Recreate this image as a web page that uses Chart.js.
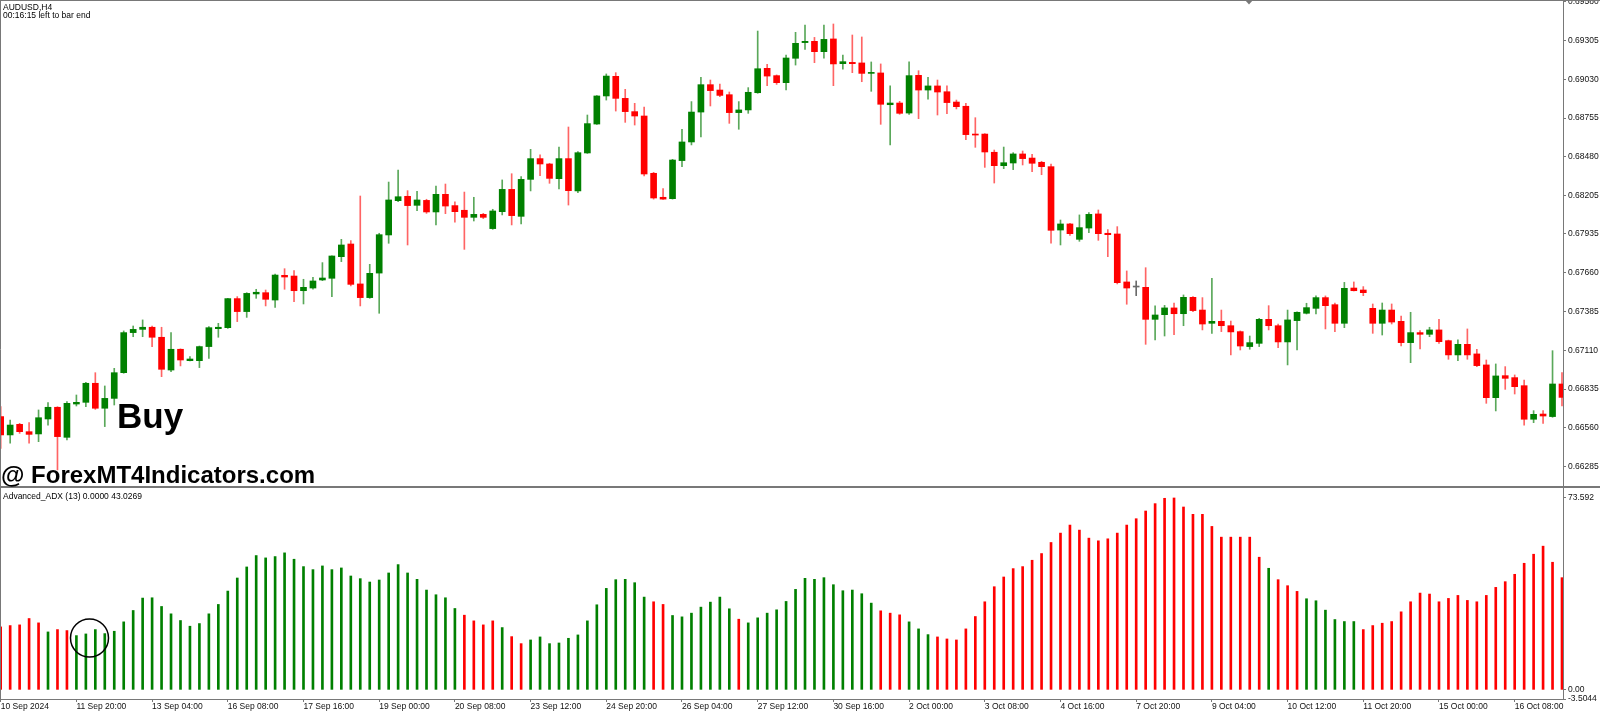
<!DOCTYPE html>
<html><head><meta charset="utf-8">
<style>html,body{margin:0;padding:0;background:#fff;overflow:hidden}canvas{display:block}</style>
<script src="https://cdn.jsdelivr.net/npm/chart.js@4.4.1/dist/chart.umd.min.js"></script>
</head><body>
<canvas id="c" width="1600" height="713"></canvas>
<script>
// ---------- DATA (AUDUSD H4, 166 bars) ----------
const openP = [0.66640,0.66510,0.66585,0.66533,0.66517,0.66623,0.66706,0.66493,0.66729,0.66741,0.66876,0.66699,0.66769,0.66951,0.67235,0.67258,0.67273,0.67202,0.66970,0.67117,
0.67036,0.67036,0.67136,0.67263,0.67270,0.67476,0.67384,0.67509,0.67518,0.67466,0.67641,0.67636,0.67532,0.67551,0.67608,0.67620,0.67773,0.67863,0.67580,0.67483,
0.67657,0.67927,0.68170,0.68201,0.68137,0.68172,0.68090,0.68215,0.68135,0.68102,0.68052,0.68073,0.67972,0.68092,0.68250,0.68059,0.68321,0.68468,0.68430,0.68326,
0.68468,0.68239,0.68508,0.68713,0.68912,0.69051,0.68895,0.68801,0.68770,0.68364,0.68194,0.68184,0.68454,0.68586,0.68798,0.68992,0.68954,0.68921,0.68794,0.68813,
0.68935,0.69108,0.69056,0.69006,0.69179,0.69290,0.69299,0.69226,0.69316,0.69141,0.69150,0.69146,0.69072,0.69075,0.68850,0.68862,0.68791,0.69058,0.68954,0.68983,
0.68942,0.68869,0.68839,0.68642,0.68642,0.68513,0.68418,0.68437,0.68501,0.68472,0.68442,0.68411,0.67962,0.68005,0.67896,0.67976,0.68076,0.67939,0.67934,0.67594,
0.67558,0.67556,0.67329,0.67362,0.67410,0.67369,0.67485,0.67395,0.67301,0.67315,0.67284,0.67242,0.67136,0.67159,0.67329,0.67284,0.67169,0.67320,0.67372,0.67407,
0.67483,0.67433,0.67301,0.67551,0.67537,0.67407,0.67301,0.67395,0.67315,0.67164,0.67235,0.67223,0.67254,0.67178,0.67077,0.67152,0.67084,0.67006,0.66774,0.66930,
0.66916,0.66859,0.66621,0.66658,0.66640,0.66871];
const highP = [0.66710,0.66616,0.66592,0.66597,0.66687,0.66739,0.66710,0.66746,0.66793,0.66883,0.66951,0.66857,0.66982,0.67247,0.67282,0.67325,0.67282,0.67273,0.67235,0.67120,
0.67065,0.67140,0.67277,0.67301,0.67478,0.67490,0.67518,0.67542,0.67537,0.67650,0.67688,0.67674,0.67613,0.67627,0.67731,0.67780,0.67896,0.67887,0.68203,0.67719,
0.67939,0.68302,0.68387,0.68241,0.68236,0.68180,0.68274,0.68288,0.68161,0.68231,0.68194,0.68080,0.68109,0.68317,0.68361,0.68340,0.68534,0.68494,0.68435,0.68550,
0.68692,0.68517,0.68777,0.68914,0.69068,0.69077,0.68959,0.68860,0.68834,0.68371,0.68255,0.68463,0.68676,0.68872,0.69044,0.69025,0.68997,0.68940,0.68872,0.68971,
0.69372,0.69136,0.69061,0.69202,0.69363,0.69415,0.69327,0.69415,0.69422,0.69202,0.69344,0.69330,0.69153,0.69139,0.68983,0.68874,0.69153,0.69091,0.69044,0.69025,
0.68983,0.68883,0.68860,0.68758,0.68645,0.68529,0.68550,0.68510,0.68522,0.68498,0.68449,0.68430,0.68033,0.68010,0.68069,0.68085,0.68104,0.67965,0.67986,0.67672,
0.67601,0.67695,0.67424,0.67428,0.67445,0.67502,0.67490,0.67483,0.67620,0.67395,0.67317,0.67247,0.67211,0.67336,0.67426,0.67296,0.67395,0.67382,0.67443,0.67495,
0.67495,0.67445,0.67591,0.67594,0.67561,0.67438,0.67445,0.67438,0.67353,0.67379,0.67249,0.67273,0.67329,0.67182,0.67183,0.67261,0.67117,0.67041,0.67013,0.66994,
0.66935,0.66899,0.66682,0.66682,0.67107,0.66951];
const lowP = [0.66415,0.66451,0.66521,0.66451,0.66462,0.66580,0.66262,0.66474,0.66715,0.66710,0.66691,0.66569,0.66722,0.66947,0.67206,0.67206,0.67136,0.66923,0.66958,0.66999,
0.67034,0.66987,0.67053,0.67202,0.67265,0.67313,0.67343,0.67478,0.67424,0.67414,0.67542,0.67454,0.67438,0.67542,0.67603,0.67490,0.67738,0.67566,0.67424,0.67478,
0.67372,0.67868,0.68163,0.67856,0.68099,0.68080,0.67998,0.68078,0.68017,0.67825,0.68026,0.68043,0.67967,0.68069,0.67998,0.68005,0.68239,0.68347,0.68293,0.68253,
0.68139,0.68227,0.68505,0.68711,0.68883,0.68805,0.68725,0.68706,0.68345,0.68181,0.68178,0.68181,0.68411,0.68565,0.68621,0.68841,0.68907,0.68718,0.68676,0.68789,
0.68931,0.68985,0.68994,0.68954,0.69131,0.69242,0.69148,0.69179,0.68985,0.69101,0.69077,0.69013,0.68945,0.68711,0.68565,0.68782,0.68782,0.68751,0.68890,0.68777,
0.68787,0.68820,0.68602,0.68548,0.68406,0.68295,0.68397,0.68390,0.68423,0.68376,0.68354,0.67868,0.67856,0.67924,0.67882,0.67943,0.67889,0.67773,0.67580,0.67436,
0.67497,0.67152,0.67183,0.67211,0.67221,0.67284,0.67384,0.67254,0.67230,0.67242,0.67077,0.67112,0.67117,0.67136,0.67254,0.67128,0.67006,0.67112,0.67367,0.67367,
0.67261,0.67242,0.67270,0.67530,0.67497,0.67230,0.67218,0.67296,0.67140,0.67022,0.67119,0.67206,0.67159,0.67046,0.67036,0.67046,0.66994,0.66734,0.66680,0.66833,
0.66800,0.66580,0.66597,0.66592,0.66635,0.66715];
const closeP = [0.66510,0.66580,0.66533,0.66514,0.66632,0.66706,0.66498,0.66734,0.66741,0.66876,0.66699,0.66769,0.66951,0.67235,0.67258,0.67273,0.67202,0.66975,0.67117,0.67041,
0.67048,0.67136,0.67270,0.67273,0.67476,0.67384,0.67513,0.67521,0.67471,0.67643,0.67629,0.67532,0.67556,0.67601,0.67622,0.67778,0.67856,0.67577,0.67483,0.67655,
0.67929,0.68175,0.68198,0.68135,0.68175,0.68090,0.68215,0.68132,0.68092,0.68052,0.68073,0.68052,0.68097,0.68250,0.68064,0.68321,0.68468,0.68430,0.68328,0.68468,
0.68241,0.68510,0.68716,0.68912,0.69053,0.68895,0.68801,0.68770,0.68359,0.68189,0.68181,0.68458,0.68586,0.68798,0.68992,0.68950,0.68916,0.68794,0.68813,0.68938,
0.69105,0.69053,0.69006,0.69181,0.69285,0.69299,0.69226,0.69313,0.69139,0.69155,0.69141,0.69072,0.69077,0.68853,0.68862,0.68789,0.69056,0.68954,0.68983,0.68940,
0.68865,0.68836,0.68638,0.68635,0.68515,0.68418,0.68439,0.68501,0.68468,0.68435,0.68411,0.67960,0.68005,0.67936,0.67979,0.68073,0.67936,0.67929,0.67589,0.67551,
0.67558,0.67329,0.67360,0.67410,0.67369,0.67485,0.67391,0.67296,0.67315,0.67284,0.67240,0.67140,0.67164,0.67329,0.67284,0.67169,0.67325,0.67379,0.67412,0.67483,
0.67426,0.67301,0.67549,0.67532,0.67518,0.67301,0.67395,0.67310,0.67164,0.67235,0.67223,0.67254,0.67171,0.67077,0.67152,0.67077,0.67001,0.66774,0.66928,0.66911,
0.66852,0.66621,0.66656,0.66644,0.66871,0.66776];

const adxValues = [24.15,24.66,24.92,27.36,25.69,22.22,23.12,22.74,20.81,21.45,23.12,21.58,22.48,26.08,30.44,35.20,35.32,31.98,29.16,26.59,
24.41,25.43,29.16,32.76,37.89,42.90,47.14,51.51,50.61,51.12,52.54,50.10,47.27,46.11,47.53,46.11,46.76,43.67,42.65,41.36,
42.13,44.83,48.04,44.83,42.39,38.28,36.48,35.32,31.21,28.64,26.46,24.92,26.46,23.89,20.42,17.73,19.14,20.30,17.73,17.98,
19.78,21.07,26.46,32.63,38.92,42.26,42.39,41.10,35.58,33.78,32.76,28.52,28.00,29.42,31.73,33.65,35.58,31.09,27.10,25.69,
27.62,29.42,30.70,33.91,38.54,42.77,42.39,43.03,40.33,38.02,38.28,36.87,33.27,30.31,29.42,28.77,26.08,23.38,21.19,20.30,
19.52,19.14,23.38,28.13,33.78,39.56,43.29,46.50,47.27,49.71,52.28,56.52,60.12,63.20,61.27,58.19,57.16,57.93,60.12,63.20,
65.64,68.59,71.42,73.47,73.592,70.13,67.31,67.31,62.68,58.57,58.57,58.57,58.57,50.87,46.63,42.26,39.95,37.77,34.94,34.17,
30.57,26.97,26.20,26.20,23.12,24.66,25.56,26.20,29.93,33.78,37.12,36.74,33.78,35.07,36.22,34.30,33.78,36.22,39.31,41.49,
44.32,48.55,52.02,55.11,48.94,43.03];
// direction of the ADX histogram per bar: g = green (up), r = red (down)
const adxDir = ('rrrrr'+'g'+'rr'+'gggggggggg'+'gggggggggg'+'gggggggggg'+'gggggggggg'+'g'+'rrrr'+'g'+'rr'+
  'gggggggggg'+'ggg'+'rr'+'ggggggg'+'r'+'gggggggggg'+'gggg'+'rrr'+'ggg'+
  'rrrrrrrrrr'+'rrrrrrrrrr'+'rrrrrrrrrr'+'rrrrr'+'g'+'rrr'+'gggggg'+'rrrrrrrrrr'+'rrrrrrrrrr'+'rr').split('');

const priceTicks = [0.69580,0.69305,0.69030,0.68755,0.68480,0.68205,0.67935,0.67660,0.67385,0.67110,0.66835,0.66560,0.66285];
const adxTicks = [73.592, 0, -3.5044];
const adxTickLabels = ['73.592','0.00','-3.5044'];
const xTickIndex = [0,8,16,24,32,40,48,56,64,72,80,88,96,104,112,120,128,136,144,152,160];
const xTickLabels = ['10 Sep 2024','11 Sep 20:00','13 Sep 04:00','16 Sep 08:00','17 Sep 16:00','19 Sep 00:00','20 Sep 08:00',
  '23 Sep 12:00','24 Sep 20:00','26 Sep 04:00','27 Sep 12:00','30 Sep 16:00','2 Oct 00:00','3 Oct 08:00','4 Oct 16:00',
  '7 Oct 20:00','9 Oct 04:00','10 Oct 12:00','11 Oct 20:00','15 Oct 00:00','16 Oct 08:00'];

// ---------- STYLE ----------
const GREEN = '#008000', RED = '#ff0000', GRAY = '#6a6a6a';
const GREEN_W = '#5aa85a', RED_W = '#ff6464';
const FRAME = '#787878';
const FONT = '"Liberation Sans", Arial, sans-serif';
Chart.defaults.font.family = FONT;

const bodyData = openP.map((o, i) => ({x: i, y: [o, closeP[i]]}));
const wickData = lowP.map((l, i) => ({x: i, y: [l, highP[i]]}));
const bodyColors = openP.map((o, i) => closeP[i] > o ? GREEN : (closeP[i] < o ? RED : GRAY));
const wickColors = openP.map((o, i) => closeP[i] > o ? GREEN_W : (closeP[i] < o ? RED_W : GRAY));
const adxData = adxValues.map((v, i) => ({x: i, y: v}));
const adxColors = adxDir.map(d => d === 'g' ? GREEN : RED);

const overlay = {
  id: 'overlay',
  beforeDraw(chart) {
    const c = chart.ctx; c.save(); c.fillStyle = '#fff'; c.fillRect(0, 0, chart.width, chart.height); c.restore();
  },
  afterDraw(chart) {
    const c = chart.ctx, a = chart.chartArea, ys = chart.scales.y;
    c.save();
    c.strokeStyle = FRAME; c.lineWidth = 1;
    c.beginPath();
    c.moveTo(0, 0.5); c.lineTo(chart.width, 0.5);
    c.moveTo(0.5, 0); c.lineTo(0.5, a.bottom);
    c.stroke();
    c.lineWidth = 2;
    c.beginPath(); c.moveTo(0, ys.bottom); c.lineTo(chart.width, ys.bottom); c.stroke();
    // chart shift marker
    c.fillStyle = '#777';
    c.beginPath(); c.moveTo(1245, 0); c.lineTo(1253, 0); c.lineTo(1249, 4.5); c.closePath(); c.fill();
    // texts
    c.fillStyle = '#000';
    c.font = '8.5px ' + FONT;
    c.textBaseline = 'alphabetic'; c.textAlign = 'left';
    c.fillText('AUDUSD,H4', 3, 10);
    c.fillText('00:16:15 left to bar end', 3, 17.6);
    c.fillText('Advanced_ADX (13) 0.0000 43.0269', 3, 499);
    c.font = 'bold 35px ' + FONT;
    c.fillText('Buy', 117, 428);
    c.font = 'bold 24px ' + FONT;
    c.fillText('@ ForexMT4Indicators.com', 1, 483);
    // circle annotation
    c.strokeStyle = '#000'; c.lineWidth = 1.5;
    c.beginPath(); c.arc(89.5, 638, 19, 0, Math.PI * 2); c.stroke();
    c.restore();
  }
};

const fitRight = s => { s.width = 37; s.paddingTop = 0; s.paddingBottom = 0; };

new Chart(document.getElementById('c'), {
  type: 'bar',
  data: {
    datasets: [
      {label: 'Body', data: bodyData, yAxisID: 'y', backgroundColor: bodyColors, barThickness: 6, minBarLength: 1, grouped: false, order: 1},
      {label: 'Wick', data: wickData, yAxisID: 'y', backgroundColor: wickColors, barThickness: 1, grouped: false, order: 2},
      {label: 'Advanced_ADX', data: adxData, yAxisID: 'y2', backgroundColor: adxColors, barThickness: 2, grouped: false, order: 3}
    ]
  },
  options: {
    responsive: false, animation: false, devicePixelRatio: 1, events: [],
    layout: {padding: 0},
    plugins: {legend: {display: false}, tooltip: {enabled: false}},
    scales: {
      x: {
        type: 'linear', position: 'bottom', min: -0.074, max: 165.106, offset: false,
        afterBuildTicks: s => { s.ticks = xTickIndex.map(v => ({value: v})); },
        afterFit: s => { s.height = 14; s.paddingLeft = 0; s.paddingRight = 0; },
        ticks: {autoSkip: false, maxRotation: 0, align: 'start', padding: 0, color: '#111', font: {size: 8.5},
          callback: (v, i) => xTickLabels[i]},
        grid: {display: true, offset: false, drawOnChartArea: false, drawTicks: true, tickLength: 3, tickColor: FRAME},
        border: {display: true, color: FRAME, width: 1}
      },
      y: {
        type: 'linear', position: 'right', stack: 'panes', stackWeight: 487, weight: 0,
        min: 0.66141, max: 0.69592,
        afterBuildTicks: s => { s.ticks = priceTicks.map(v => ({value: v})); },
        afterFit: fitRight,
        ticks: {autoSkip: false, padding: 2, color: '#111', font: {size: 8.5}, callback: v => v.toFixed(5)},
        grid: {display: true, drawOnChartArea: false, tickLength: 3, tickColor: FRAME},
        border: {display: true, color: FRAME, width: 1}
      },
      y2: {
        type: 'linear', position: 'right', stack: 'panes', stackWeight: 212, weight: 1,
        min: -3.5044, max: 77.8,
        afterBuildTicks: s => { s.ticks = adxTicks.map(v => ({value: v})); },
        afterFit: fitRight,
        ticks: {autoSkip: false, padding: 2, color: '#111', font: {size: 8.5}, callback: (v, i) => adxTickLabels[i]},
        grid: {display: true, drawOnChartArea: false, tickLength: 3, tickColor: FRAME},
        border: {display: true, color: FRAME, width: 1}
      }
    }
  },
  plugins: [overlay]
});
</script>
</body></html>
